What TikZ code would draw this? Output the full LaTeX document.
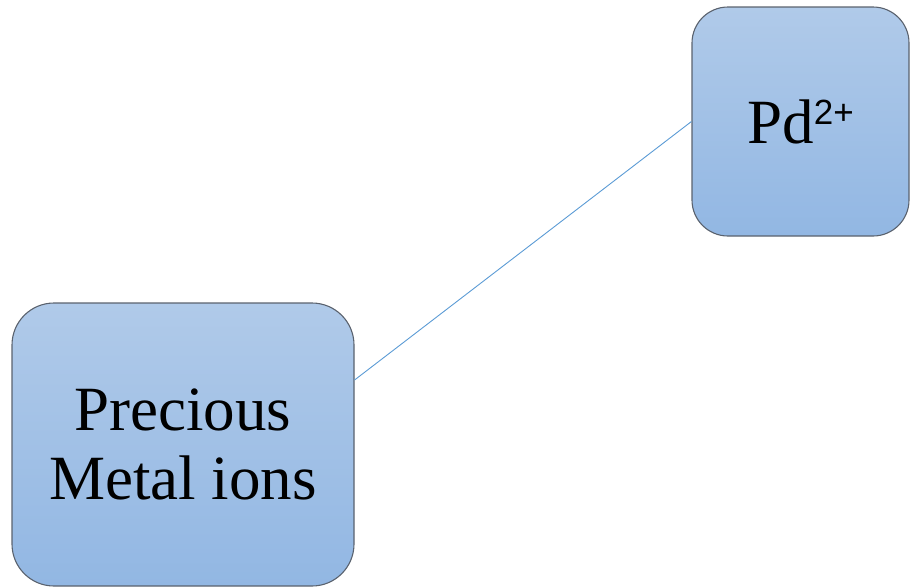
\documentclass[tikz,border=0pt]{standalone}
\usepackage{fontspec}
\setmainfont{Liberation Serif}
\newfontfamily\supfont{Liberation Sans}
\definecolor{boxtop}{RGB}{176,202,233}
\definecolor{boxbottom}{RGB}{146,183,227}
\definecolor{boxedge}{RGB}{90,98,110}
\definecolor{linkblue}{RGB}{91,155,213}
\tikzset{
  ionbox/.style={draw=boxedge, line width=1.1pt, rectangle, rounded corners=#1,
    top color=boxtop, bottom color=boxbottom, align=center, inner sep=0pt,
    font=\fontsize{63}{69}\selectfont},
  link/.style={draw=linkblue, line width=0.9pt}
}
\begin{document}
\begin{tikzpicture}[x=1pt,y=-1pt]
  \useasboundingbox (0,0) rectangle (910,587);
  \node[ionbox=42pt, minimum width=342pt, minimum height=283pt] (metal) at (183,444.5)
    {Precious\\Metal ions};
  \node[ionbox=36pt, minimum width=217pt, minimum height=229pt] (pd) at (800.5,121.5)
    {Pd\raisebox{19pt}{\supfont\fontsize{35}{35}\selectfont 2+}};
  \draw[link] ([yshift=64.5pt]metal.east) -- (pd.west);
\end{tikzpicture}
\end{document}
